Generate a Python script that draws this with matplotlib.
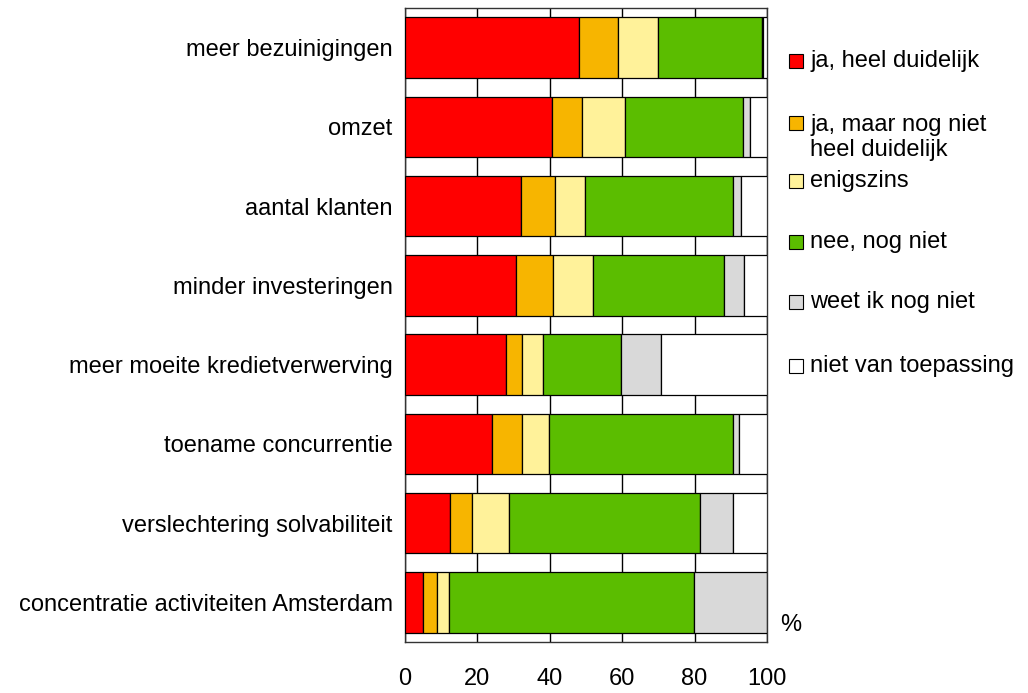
import numpy as np
import matplotlib
matplotlib.use("Agg")
import matplotlib.pyplot as plt
from matplotlib.patches import Rectangle

plt.rcParams["font.family"] = ["Liberation Sans", "DejaVu Sans"]

categories = ["meer bezuinigingen", "omzet", "aantal klanten", "minder investeringen",
              "meer moeite kredietverwerving", "toename concurrentie",
              "verslechtering solvabiliteit", "concentratie activiteiten Amsterdam"]
series_names = ["ja, heel duidelijk", "ja, maar nog niet\nheel duidelijk", "enigszins",
                "nee, nog niet", "weet ik nog niet", "niet van toepassing"]
ja_duidelijk = [48.0, 40.7, 32.0, 30.7, 27.8, 24.0, 12.3, 5.1]
ja_niet_duidelijk = [10.7, 8.2, 9.4, 10.3, 4.4, 8.2, 6.3, 3.6]
enigszins = [11.1, 11.8, 8.2, 11.0, 6.0, 7.6, 10.1, 3.4]
nee = [28.7, 32.8, 41.0, 36.0, 21.5, 50.7, 52.7, 67.7]
weet_niet = [0.3, 1.8, 2.2, 5.7, 11.0, 1.7, 9.2, 20.2]
nvt = [1.2, 4.7, 7.2, 6.3, 29.3, 7.8, 9.4, 0.0]
colors = ["#ff0000", "#f7b500", "#fff29a", "#5bbd00", "#d9d9d9", "#ffffff"]

series = [ja_duidelijk, ja_niet_duidelijk, enigszins, nee, weet_niet, nvt]
FS = 17

fig = plt.figure(figsize=(10.28, 6.93), dpi=100)
ax = fig.add_axes([0.394, 0.0736, 0.3521, 0.9149])

y = np.arange(len(categories))
left = np.zeros(len(categories))
for vals, col in zip(series, colors):
    vals = np.array(vals)
    ax.barh(y, vals, left=left, height=0.763, color=col, edgecolor="black",
            linewidth=0.9, zorder=3)
    left += vals

ax.set_xlim(0, 100)
ax.set_ylim(len(categories) - 0.5, -0.5)
ax.set_xticks([0, 20, 40, 60, 80, 100])
ax.set_yticks(y)
ax.set_yticklabels(categories)
ax.tick_params(axis="both", length=0, labelsize=FS)
ax.tick_params(axis="x", pad=19)
ax.tick_params(axis="y", pad=9)
ax.grid(axis="x", color="black", linewidth=1, zorder=0)
for s in ax.spines.values():
    s.set_color("#333333")
    s.set_linewidth(1)
ax.text(1.035, 0.027, "%", transform=ax.transAxes, fontsize=FS, va="center", ha="left")

# legend drawn by hand to match the uneven spacing
W, H = 1028, 693
box_y = [61, 123, 181, 242, 302, 366]
text_y = [61, 137.5, 181, 242, 302, 366]
for name, col, by, ty in zip(series_names, colors, box_y, text_y):
    fig.add_artist(Rectangle((789 / W, 1 - (by + 7) / H), 14 / W, 14 / H,
                             transform=fig.transFigure, facecolor=col,
                             edgecolor="black", linewidth=0.8))
    fig.text(810 / W, 1 - ty / H, name, fontsize=FS, va="center", ha="left",
             linespacing=1.2)

fig.savefig("out.png", dpi=100)
